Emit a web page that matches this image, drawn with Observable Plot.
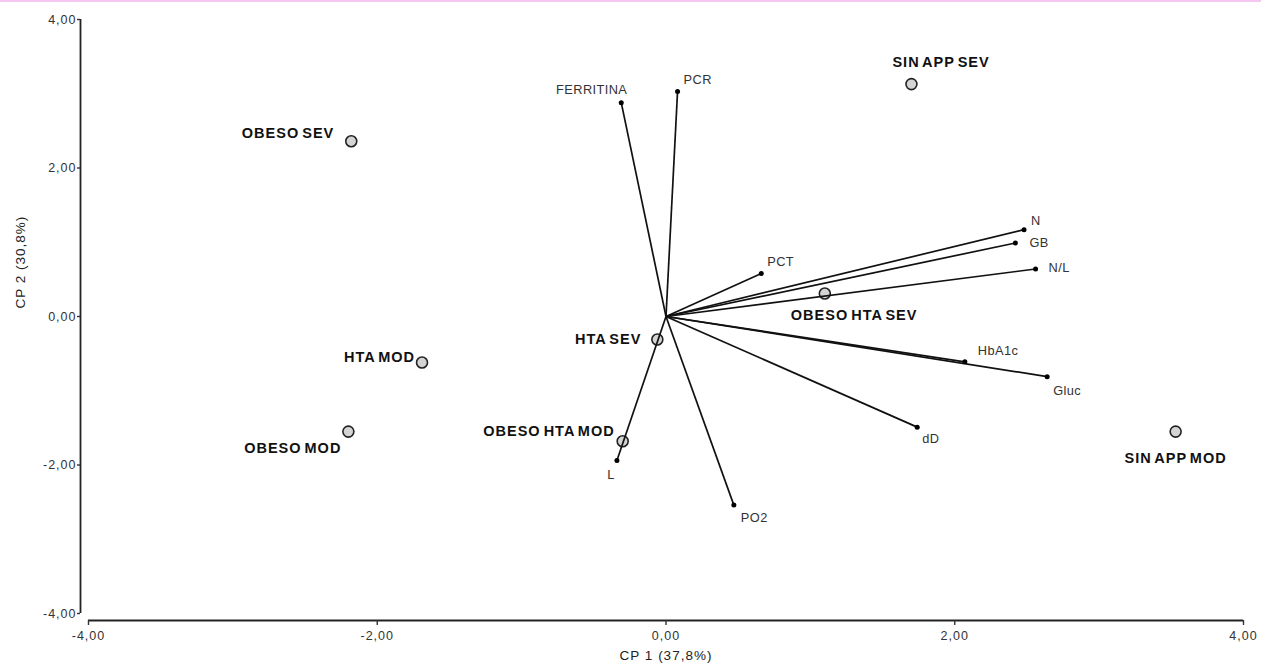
<!DOCTYPE html>
<html>
<head>
<meta charset="utf-8">
<script src="https://cdn.jsdelivr.net/npm/d3@7"></script>
<script src="https://cdn.jsdelivr.net/npm/@observablehq/plot@0.6"></script>
<style>
html, body { margin: 0; padding: 0; background: #fff; }
#topline { position: absolute; left: 0; top: 0; width: 1261px; height: 2px; background: #f4c6f0; }
#chart svg { display: block; }
g[aria-label="y-axis tick label"] text, g[aria-label="x-axis tick label"] text { letter-spacing: 1px; }
g[aria-description="var-label"] text { letter-spacing: 0.4px; }
g[aria-description="group-label"] text { letter-spacing: 1px; word-spacing: -2px; }
g[aria-description="axis-title"] text { letter-spacing: 1px; }
</style>
</head>
<body>
<div id="topline"></div>
<div id="chart"></div>
<script>
// Variable loadings (vectors)
const variables = ["FERRITINA", "PCR", "PCT", "N", "GB", "N/L", "HbA1c", "Gluc", "dD", "L", "PO2"];
const varCP1 = [-0.31, 0.08, 0.66, 2.48, 2.42, 2.56, 2.07, 2.64, 1.74, -0.34, 0.47];
const varCP2 = [2.88, 3.03, 0.58, 1.17, 0.99, 0.64, -0.61, -0.81, -1.49, -1.94, -2.54];

// Group scores (circles)
const groups = ["OBESO SEV", "SIN APP SEV", "HTA MOD", "OBESO MOD", "HTA SEV", "OBESO HTA MOD", "OBESO HTA SEV", "SIN APP MOD"];
const grpCP1 = [-2.18, 1.70, -1.69, -2.20, -0.06, -0.30, 1.10, 3.53];
const grpCP2 = [2.36, 3.13, -0.62, -1.55, -0.31, -1.68, 0.31, -1.55];

// Axis ticks and titles
const xTicks = [-4, -2, 0, 2, 4];
const yTicks = [-4, -2, 0, 2, 4];
const xTitle = "CP 1 (37,8%)";
const yTitle = "CP 2 (30,8%)";

// Label placement (layout only): [dx, dy, textAnchor]
const varLabelPlace = [[6, -13, "end"], [6, -12, "start"], [6, -12, "start"], [7, -9, "start"], [14, 0, "start"], [13, -1, "start"], [13, -11, "start"], [6, 14, "start"], [5, 12, "start"], [-6, 14, "middle"], [7, 13, "start"]];
const grpLabelPlace = [[-17, -8, "end"], [-19, -22, "start"], [-7, -5, "end"], [-7, 17, "end"], [-16, 0, "end"], [-8, -10, "end"], [-34, 22, "start"], [0, 27, "middle"]];

const fmt = d => d.toFixed(2).replace(".", ",");

const varData = variables.map((name, i) => ({name, cp1: varCP1[i], cp2: varCP2[i]}));
const grpData = groups.map((name, i) => ({name, cp1: grpCP1[i], cp2: grpCP2[i]}));

const varLabelMarks = varData.map((d, i) => Plot.text([d], {
  x: "cp1", y: "cp2", text: "name",
  dx: varLabelPlace[i][0], dy: varLabelPlace[i][1], textAnchor: varLabelPlace[i][2],
  fontSize: 12.8, fill: "#333", ariaDescription: "var-label"
}));
const grpLabelMarks = grpData.map((d, i) => Plot.text([d], {
  x: "cp1", y: "cp2", text: "name",
  dx: grpLabelPlace[i][0], dy: grpLabelPlace[i][1], textAnchor: grpLabelPlace[i][2],
  fontSize: 14.5, fontWeight: "bold", fill: "#111", ariaDescription: "group-label"
}));

const chart = Plot.plot({
  width: 1261,
  height: 666,
  marginLeft: 88,
  marginRight: 18,
  marginTop: 19,
  marginBottom: 53,
  x: {domain: [-4, 4], label: null},
  y: {domain: [-4, 4], label: null},
  style: {fontFamily: "'Liberation Sans', Arial, sans-serif", background: "#fff", color: "#333"},
  marks: [
    Plot.ruleX([-4], {y1: -4, y2: 4, dx: -8, stroke: "#222", strokeWidth: 1.8}),
    Plot.ruleY([-4], {x1: -4, x2: 4, dy: 7, stroke: "#222", strokeWidth: 1.8}),
    Plot.axisY({ticks: yTicks, tickFormat: fmt, anchor: "left", dx: -8, tickSize: 3, tickPadding: 1, fontSize: 12.5, strokeWidth: 1.4, label: null}),
    Plot.axisX({ticks: xTicks, tickFormat: fmt, anchor: "bottom", dy: 7, tickSize: 5, tickPadding: 6, fontSize: 12.5, strokeWidth: 1.4, label: null}),
    Plot.text([xTitle], {frameAnchor: "bottom", dy: 46, fontSize: 13.5, fill: "#222", ariaDescription: "axis-title"}),
    Plot.text([yTitle], {frameAnchor: "left", dx: -68, dy: -8, rotate: -90, fontSize: 13.5, fill: "#222", ariaDescription: "axis-title"}),
    Plot.dot(grpData, {x: "cp1", y: "cp2", r: 5.5, fill: "#d4d4d4", stroke: "#222", strokeWidth: 1.6}),
    Plot.link(varData, {x1: 0, y1: 0, x2: "cp1", y2: "cp2", stroke: "#111", strokeWidth: 1.7}),
    Plot.dot(varData, {x: "cp1", y: "cp2", r: 2.5, fill: "#000"}),
    ...varLabelMarks,
    ...grpLabelMarks
  ]
});
document.getElementById("chart").appendChild(chart);
</script>
</body>
</html>
